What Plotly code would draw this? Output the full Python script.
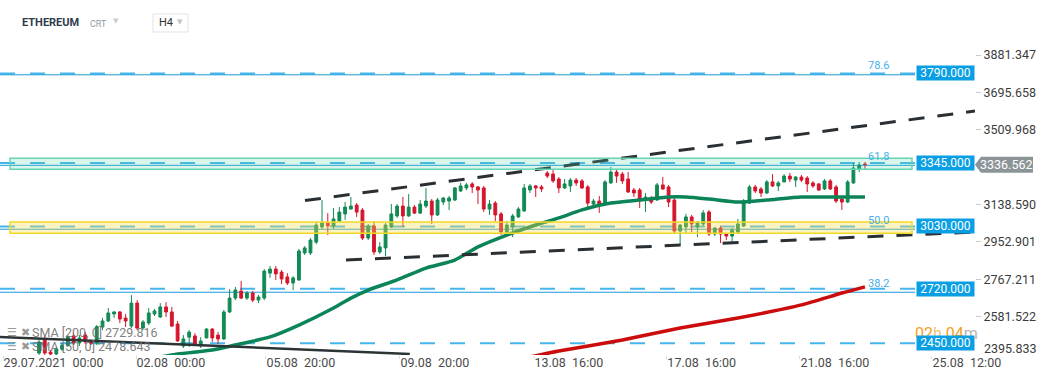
import plotly.graph_objects as go

# ---------------- data ----------------
open_ = [2401, 2471, 2406, 2396, 2420, 2440, 2486, 2451, 2491, 2456,
         2451, 2530, 2560, 2595, 2605, 2575, 2535, 2649, 2525, 2550,
         2595, 2580, 2630, 2605, 2545, 2436, 2480, 2486, 2436, 2476,
         2520, 2490, 2471, 2605, 2674, 2709, 2674, 2699, 2664, 2674,
         2798, 2818, 2803, 2779, 2749, 2764, 2898, 2898, 2952, 3027,
         3047, 3032, 3057, 3092, 3116, 3136, 3111, 2972, 3032, 2903,
         2923, 3027, 3082, 3131, 3082, 3126, 3096, 3131, 3156, 3087,
         3151, 3156, 3161, 3206, 3221, 3241, 3226, 3221, 3116, 3146,
         3092, 3002, 3027, 3077, 3107, 3211, 3231, 3226, 3295, 3290,
         3265, 3221, 3231, 3260, 3256, 3226, 3141, 3156, 3146, 3246,
         3300, 3290, 3265, 3211, 3211, 3161, 3171, 3161, 3236, 3226,
         3161, 3007, 3027, 3077, 3027, 3042, 3102, 2992, 3022, 2992,
         2982, 3002, 3032, 3146, 3226, 3216, 3196, 3251, 3231, 3251,
         3280, 3260, 3275, 3270, 3246, 3241, 3216, 3256, 3226, 3166,
         3151, 3246, 3315, 3340]
high = [2466, 2486, 2416, 2430, 2450, 2490, 2500, 2490, 2505, 2466,
        2540, 2575, 2625, 2610, 2610, 2595, 2689, 2664, 2565, 2625,
        2620, 2649, 2654, 2630, 2560, 2490, 2515, 2500, 2480, 2525,
        2525, 2505, 2615, 2718, 2729, 2759, 2709, 2709, 2689, 2818,
        2833, 2833, 2813, 2798, 2783, 2918, 2932, 2972, 3052, 3161,
        3096, 3121, 3126, 3151, 3176, 3146, 3121, 3042, 3057, 2952,
        3047, 3141, 3141, 3176, 3191, 3136, 3161, 3221, 3166, 3171,
        3176, 3181, 3226, 3246, 3246, 3250, 3231, 3231, 3161, 3156,
        3102, 3057, 3092, 3126, 3241, 3241, 3236, 3236, 3305, 3310,
        3275, 3265, 3270, 3270, 3265, 3236, 3166, 3181, 3260, 3325,
        3310, 3300, 3300, 3221, 3221, 3196, 3181, 3246, 3275, 3236,
        3171, 3042, 3092, 3087, 3057, 3111, 3111, 3027, 3032, 2997,
        3022, 3067, 3166, 3236, 3236, 3226, 3260, 3290, 3255, 3290,
        3295, 3280, 3285, 3280, 3255, 3245, 3265, 3265, 3236, 3181,
        3260, 3345, 3350, 3350]
low = [2386, 2391, 2386, 2385, 2410, 2432, 2441, 2436, 2446, 2441,
       2440, 2515, 2555, 2575, 2550, 2530, 2525, 2515, 2515, 2540,
       2585, 2575, 2580, 2530, 2456, 2426, 2431, 2436, 2426, 2475,
       2456, 2446, 2466, 2600, 2664, 2669, 2664, 2654, 2649, 2664,
       2774, 2764, 2744, 2739, 2714, 2759, 2888, 2888, 2942, 3017,
       2987, 3017, 3052, 3062, 3116, 3077, 2962, 2962, 2888, 2893,
       2883, 3022, 3072, 3027, 3077, 3092, 3092, 3121, 3042, 3082,
       3136, 3111, 3156, 3201, 3211, 3196, 3141, 3102, 3087, 3057,
       2987, 2982, 2977, 3072, 3102, 3196, 3176, 3201, 3270, 3246,
       3196, 3216, 3201, 3231, 3216, 3126, 3131, 3097, 3141, 3241,
       3246, 3241, 3196, 3176, 3121, 3102, 3141, 3156, 3211, 3126,
       2992, 2938, 2997, 3002, 2977, 3032, 2982, 2982, 2947, 2962,
       2952, 2997, 3027, 3141, 3196, 3176, 3191, 3226, 3206, 3250,
       3250, 3226, 3250, 3201, 3221, 3206, 3211, 3211, 3146, 3111,
       3146, 3241, 3300, 3310]
close = [2456, 2401, 2396, 2420, 2440, 2482, 2451, 2476, 2456, 2451,
         2532, 2560, 2600, 2605, 2570, 2560, 2649, 2525, 2555, 2600,
         2610, 2630, 2605, 2535, 2461, 2471, 2505, 2441, 2461, 2520,
         2476, 2471, 2605, 2674, 2714, 2674, 2699, 2664, 2679, 2808,
         2818, 2794, 2769, 2749, 2774, 2908, 2923, 2962, 3037, 3047,
         3032, 3067, 3101, 3126, 3131, 3101, 2972, 3032, 2903, 2928,
         3037, 3092, 3131, 3082, 3126, 3096, 3141, 3156, 3087, 3161,
         3171, 3171, 3221, 3231, 3236, 3226, 3211, 3116, 3141, 3087,
         3002, 3037, 3082, 3116, 3221, 3231, 3221, 3216, 3280, 3256,
         3221, 3241, 3260, 3246, 3221, 3146, 3156, 3141, 3251, 3300,
         3280, 3256, 3201, 3196, 3161, 3176, 3151, 3236, 3216, 3151,
         3007, 3037, 3077, 3042, 3047, 3097, 2992, 3022, 2992, 2982,
         3012, 3042, 3156, 3226, 3206, 3196, 3251, 3231, 3246, 3280,
         3265, 3275, 3260, 3241, 3231, 3211, 3256, 3216, 3156, 3151,
         3251, 3320, 3335, 3336.562]
bar_index = list(range(len(close)))

sma50_idx = [19, 24, 30, 34, 40, 45, 51, 54, 57, 62, 67, 72, 76, 81, 86, 90,
             94, 99, 104, 109, 112, 116, 121, 126, 132, 138, 143]
sma50_val = [2370, 2396, 2416, 2441, 2481, 2540, 2625, 2674, 2714, 2764, 2823,
             2863, 2928, 2987, 3037, 3072, 3112, 3146, 3161, 3176, 3176, 3166,
             3151, 3161, 3176, 3176, 3176]
sma200_idx = [84, 90, 101, 111, 121, 132, 139, 143]
sma200_val = [2375, 2411, 2466, 2525, 2575, 2640, 2699, 2729.816]

trend_upper_idx = [46.05, 162.05]
trend_upper_val = [3158.6, 3603.2]
trend_lower_idx = [53.15, 162.05]
trend_lower_val = [2863.1, 3002.2]
trend_down_idx = [-6.75, 64.2]
trend_down_val = [2480.6, 2396.2]

levels = [3790.0, 3345.0, 3030.0, 2720.0, 2450.0]
fib_names = ["78.6", "61.8", "50.0", "38.2"]
fib_prices = [3783.0, 3333.5, 3016.0, 2703.0]
zone_green = [3313.6, 3368.2]
zone_yellow = [2995.7, 3051.9]

last_price = 3336.562
y_ticks = [2581.522, 2767.211, 2952.901, 3138.590, 3509.968, 3695.658, 3881.347]
y_bottom_tick = 2395.833
x_tick_idx = [-6.23, 16.8, 39.3, 62.5, 85.7, 108.7, 131.75, 154.6]
x_tick_text = ["29.07.2021\u00a0\u00a000:00", "02.08\u00a0\u00a000:00", "05.08\u00a0\u00a020:00",
               "09.08\u00a0\u00a020:00", "13.08\u00a0\u00a016:00", "17.08\u00a0\u00a016:00",
               "21.08\u00a0\u00a016:00", "25.08\u00a0\u00a012:00"]

# ---------------- figure ----------------
W, H = 1041, 379
ML, MR, MT, MB = 0, 66, 40, 24
PW, PH = W - ML - MR, H - MT - MB


def px_x(px):
    return px / PW


def px_y(py):
    return (MT + PH - py) / PH


fig = go.Figure()
GREEN = "#128a55"
RED = "#d5162d"

fig.add_trace(go.Candlestick(
    x=bar_index, open=open_, high=high, low=low, close=close,
    increasing=dict(line=dict(color=GREEN, width=1), fillcolor=GREEN),
    decreasing=dict(line=dict(color=RED, width=1), fillcolor=RED),
    whiskerwidth=0, showlegend=False, hoverinfo="skip"))

fig.add_trace(go.Scatter(x=sma50_idx, y=sma50_val, mode="lines",
                         line=dict(color="#0b8457", width=3.5, shape="spline", smoothing=0.6),
                         showlegend=False, hoverinfo="skip"))
fig.add_trace(go.Scatter(x=sma200_idx, y=sma200_val, mode="lines",
                         line=dict(color="#cc0c0c", width=3.5, shape="spline", smoothing=0.6),
                         showlegend=False, hoverinfo="skip"))
for xi, yi in [(trend_upper_idx, trend_upper_val), (trend_lower_idx, trend_lower_val)]:
    fig.add_trace(go.Scatter(x=xi, y=yi, mode="lines",
                             line=dict(color="#2a2f33", width=3, dash="16px,13px"),
                             showlegend=False, hoverinfo="skip"))
fig.add_trace(go.Scatter(x=trend_down_idx, y=trend_down_val, mode="lines",
                         line=dict(color="#2d3436", width=2.5),
                         showlegend=False, hoverinfo="skip"))

shapes = []
for lv in levels:
    shapes.append(dict(type="line", xref="paper", yref="y", x0=0, x1=px_x(918),
                       y0=lv, y1=lv, layer="below",
                       line=dict(color="#45b5ec", width=2, dash="15px,15px")))
for fp in fib_prices:
    shapes.append(dict(type="line", xref="paper", yref="y", x0=0, x1=px_x(915),
                       y0=fp, y1=fp, layer="below",
                       line=dict(color="#1b9ad8", width=1)))
shapes.append(dict(type="rect", xref="paper", yref="y", x0=px_x(10), x1=px_x(912),
                   y0=zone_green[0], y1=zone_green[1], layer="above",
                   fillcolor="rgba(80, 210, 170, 0.22)",
                   line=dict(color="#66d4b2", width=1.5)))
shapes.append(dict(type="rect", xref="paper", yref="y", x0=px_x(10), x1=px_x(912),
                   y0=zone_yellow[0], y1=zone_yellow[1], layer="above",
                   fillcolor="rgba(245, 222, 80, 0.35)",
                   line=dict(color="#f2d923", width=1.5)))
shapes.append(dict(type="path", xref="paper", yref="y", xsizemode="pixel", ysizemode="pixel",
                   xanchor=1.0, yanchor=last_price,
                   path="M0,0 L6,8 L58,8 L58,-8 L6,-8 Z",
                   fillcolor="#8b9497", line=dict(width=0), layer="above"))
shapes.append(dict(type="rect", xref="paper", yref="paper", x0=px_x(153), x1=px_x(188),
                   y0=px_y(32), y1=px_y(14), line=dict(color="#e3e3e3", width=1),
                   fillcolor="white"))

ann = []
FONT = "Roboto, DejaVu Sans, sans-serif"
ann.append(dict(x=px_x(20), y=px_y(23), xref="paper", yref="paper", xanchor="left",
                yanchor="middle", text="<b>ETHEREUM</b>", showarrow=False,
                font=dict(family=FONT, size=11, color="#2f3d4a")))
ann.append(dict(x=px_x(88), y=px_y(24), xref="paper", yref="paper", xanchor="left",
                yanchor="middle", text="CRT", showarrow=False,
                font=dict(family=FONT, size=9, color="#8d9aa6")))
ann.append(dict(x=px_x(115.5), y=px_y(21), xref="paper", yref="paper", xanchor="center",
                yanchor="middle", text="▼", showarrow=False,
                font=dict(family="DejaVu Sans", size=7, color="#c8ccd0")))
ann.append(dict(x=px_x(157), y=px_y(23), xref="paper", yref="paper", xanchor="left",
                yanchor="middle", text="H4", showarrow=False,
                font=dict(family=FONT, size=11, color="#333333")))
ann.append(dict(x=px_x(179.5), y=px_y(22), xref="paper", yref="paper", xanchor="center",
                yanchor="middle", text="▼", showarrow=False,
                font=dict(family="DejaVu Sans", size=7, color="#c0c4c8")))
for name, fp in zip(fib_names, fib_prices):
    ann.append(dict(x=px_x(878), y=fp, xref="paper", yref="y", xanchor="center",
                    yanchor="middle", yshift=9, text=name, showarrow=False,
                    font=dict(family=FONT, size=11, color="#45b0ea")))
ann.append(dict(x=px_x(946), y=px_y(333), xref="paper", yref="paper", xanchor="center",
                yanchor="middle",
                text="<span style='color:#f5a01a'>02</span><span style='color:#f3c27a'>h</span>"
                     "<span style='color:#f5a01a'> 04</span><span style='color:#b5b5b5'>m</span>",
                showarrow=False, font=dict(family=FONT, size=16)))
for lv in levels:
    ann.append(dict(x=1.0, y=lv, xref="paper", yref="y", xanchor="right", yanchor="middle",
                    text=f"{lv:.3f}", showarrow=False, bgcolor="#0a9fe4",
                    borderpad=1, width=55, height=12,
                    font=dict(family=FONT, size=12, color="white")))
ann.append(dict(x=1.0, y=last_price, xref="paper", yref="y", xanchor="center",
                yanchor="middle", xshift=31, text=f"{last_price:.3f}", showarrow=False,
                font=dict(family=FONT, size=12.5, color="white")))
ann.append(dict(x=1.0, y=y_bottom_tick, xref="paper", yref="y", xanchor="left",
                yanchor="middle", xshift=7, yshift=6, text=f"{y_bottom_tick:.3f}",
                showarrow=False, font=dict(family=FONT, size=12.5, color="#3c3c3c")))
for py, txt in [(332.7, "SMA [200, 0] 2729.816"), (346, "SMA [50, 0] 2478.643")]:
    ann.append(dict(x=px_x(5), y=px_y(py), xref="paper", yref="paper", xanchor="left",
                    yanchor="middle", text="☰", showarrow=False,
                    font=dict(family="DejaVu Sans", size=11, color="#9a9a9a")))
    ann.append(dict(x=px_x(19), y=px_y(py), xref="paper", yref="paper", xanchor="left",
                    yanchor="middle", text="✖", showarrow=False,
                    font=dict(family="DejaVu Sans", size=11, color="#9a9a9a")))
    ann.append(dict(x=px_x(30), y=px_y(py), xref="paper", yref="paper", xanchor="left",
                    yanchor="middle", text=txt, showarrow=False,
                    font=dict(family=FONT, size=12.5, color="rgba(110,110,110,0.9)")))

fig.update_layout(
    width=W, height=H, autosize=False,
    margin=dict(l=ML, r=MR, t=MT, b=MB),
    paper_bgcolor="white", plot_bgcolor="white",
    shapes=shapes, annotations=ann, hovermode=False, showlegend=False,
    xaxis=dict(range=[-6.75, 162.05], tickmode="array", tickvals=x_tick_idx,
               ticktext=x_tick_text, ticklabelposition="outside right",
               ticklabelstandoff=-4,
               showgrid=False, zeroline=False, showline=False,
               ticks="outside", ticklen=3, tickcolor="#dddddd",
               tickfont=dict(family=FONT, size=12.5, color="#4a4a4a"),
               rangeslider=dict(visible=False), fixedrange=True),
    yaxis=dict(range=[2391.25, 3955.9], side="right", tickmode="array",
               tickvals=y_ticks, ticktext=[f"{v:.3f}" for v in y_ticks],
               showgrid=False, zeroline=False, showline=False,
               ticks="outside", ticklen=5, tickcolor="#cccccc",
               tickfont=dict(family=FONT, size=12.5, color="#3c3c3c"), fixedrange=True),
)

fig.write_html("out.html", config={"displayModeBar": False},
               post_script="document.body.style.margin='0';document.body.style.overflow='hidden';")
